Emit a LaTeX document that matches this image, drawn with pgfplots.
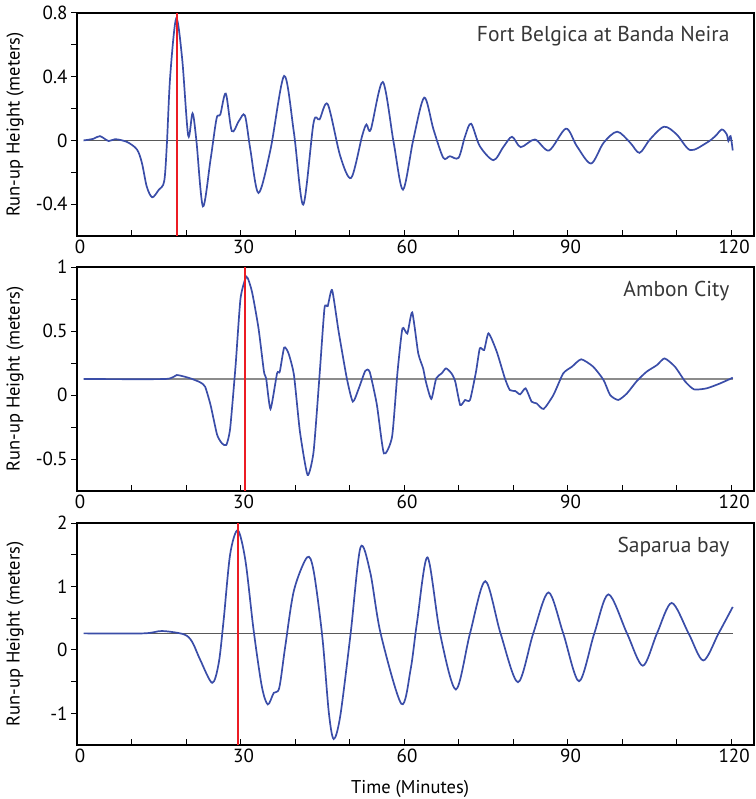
\documentclass[border=0pt]{standalone}
\usepackage{pgfplots}
\pgfplotsset{compat=1.18}
\usepackage{fontspec}
\setmainfont{PT Sans}

\definecolor{waveblue}{RGB}{58,77,168}
\definecolor{arrivalred}{RGB}{236,28,36}
\definecolor{labelgray}{RGB}{55,55,55}

\pgfplotsset{
  runup/.style={
    scale only axis,
    width=677pt,
    xmin=0, xmax=124.2,
    axis line style={line width=1.5pt},
    xtick={0,30,60,90,120},
    minor xtick={10,20,40,50,70,80,100,110},
    xtick pos=bottom, ytick pos=left,
    xtick align=inside, ytick align=outside,
    major tick length=6pt, minor tick length=6pt,
    tick style={black, line width=1pt},
    every tick label/.append style={font=\fontsize{19}{22}\selectfont, text=black},
    xticklabel style={xshift=3pt},
    /pgf/number format/assume math mode=true,
    ylabel={Run-up Height (meters)},
    ylabel style={font=\fontsize{18.5}{22}\selectfont, at={(axis description cs:0,0.5)},
      anchor=south, yshift=53pt, inner sep=0pt},
  },
  wave/.style={waveblue, line width=1.7pt, smooth, tension=0.5},
  zero/.style={line width=0.8pt},
  arrival/.style={arrivalred, line width=2pt},
}

\newcommand{\site}[1]{\node[anchor=base east, font=\fontsize{21.5}{26}\selectfont, text=labelgray, yshift=-29pt]
  at (rel axis cs:0.969,1) {#1};}

\begin{document}
\begin{tikzpicture}
\path[use as bounding box] (0,0) rectangle (755pt,-799pt);

% --- Fort Belgica ---
\begin{axis}[runup, at={(77pt,-236pt)}, anchor=south west, height=223pt,
  ymin=-0.6, ymax=0.8,
  ytick={-0.4,0,0.4,0.8}, yticklabels={-0.4,0,0.4,0.8},
  minor ytick={-0.2,0.2,0.6}]
\addplot[zero, black!65] coordinates {(1.2,0) (120.3,0)};
\addplot[wave] coordinates {
  (1.2,0) (3,0.01) (4.2,0.027) (5.8,-0.004) (7.0,0.008) (9.2,-0.01) (11,-0.057)
  (11.9,-0.14) (12.8,-0.29) (13.8,-0.357) (15,-0.31) (16,-0.256) (16.5,-0.015)
  (17.1,0.405) (18.2,0.766) (19.3,0.51) (20.4,0.03) (21.2,0.17) (21.9,0.0)
  (23.1,-0.414) (24.5,-0.12) (25.6,0.137) (26.3,0.164) (27.3,0.294) (28.4,0.059)
  (29.7,0.122) (30.8,0.157) (31.8,-0.057) (33.3,-0.33) (35.5,-0.057) (38,0.405)
  (39.8,0.048) (41.5,-0.403) (43.4,0.111) (44.5,0.132) (46,0.227) (48.3,-0.099)
  (50.3,-0.235) (52.3,0.027) (53.1,0.10) (53.9,0.069) (56.1,0.367) (58.1,-0.015)
  (59.8,-0.309) (61.7,0.006) (63.7,0.269) (65.4,0.069) (67.2,-0.109) (68.4,-0.099)
  (70,-0.109) (71.2,0.027) (72.3,0.105) (73.9,-0.036) (76.4,-0.124) (78.2,-0.042)
  (79.8,0.023) (81.4,-0.042) (84.0,0.006) (86.6,-0.063) (89.7,0.074) (91.7,-0.036)
  (94.3,-0.145) (96.6,-0.015) (99.1,0.055) (101.5,-0.015) (103.2,-0.078)
  (105.1,0.006) (107.7,0.086) (110.0,0.038) (112.5,-0.061) (115.5,-0.015)
  (117.1,0.027) (118.3,0.069) (119.2,0.038) (119.5,-0.004) (119.9,0.027) (120.3,-0.063)
};
\addplot[arrival] coordinates {(18.3,-0.6) (18.3,0.8)};
\site{Fort Belgica at Banda Neira}
\end{axis}

% --- Ambon City ---
\begin{axis}[runup, at={(77pt,-491pt)}, anchor=south west, height=224pt,
  ymin=-0.75, ymax=1,
  ytick={-0.5,0,0.5,1}, yticklabels={-0.5,0,0.5,1},
  minor ytick={-0.25,0.25,0.75}]
\addplot[zero, black!45, line width=1.2pt] coordinates {(1.2,0.125) (120.3,0.125)};
\addplot[wave, tension=0.35] coordinates {
  (1.2,0.125) (16.2,0.125) (18.3,0.156) (20.8,0.130) (22.6,0.099) (23.5,0.065)
  (24.5,-0.078) (25.7,-0.31) (26.6,-0.378) (27.4,-0.39) (28.1,-0.26) (29.1,0.234)
  (30,0.755) (31.1,0.924) (32.1,0.807) (33.3,0.521) (34.3,0.182) (34.7,0.13)
  (35.5,-0.109) (36.7,0.169) (37.2,0.182) (38,0.37) (38.8,0.326) (39.8,0.156)
  (40.9,-0.287) (42.3,-0.625) (43.4,-0.443) (44.5,0.156) (45.4,0.677) (46,0.695)
  (46.8,0.82) (48,0.495) (49.5,0.13) (50.6,-0.052) (51.7,0.052) (52.9,0.19)
  (53.7,0.18) (55,-0.073) (56.3,-0.456) (57.8,-0.326) (58.8,0.18) (59.7,0.52)
  (60.6,0.48) (61.5,0.645) (62.6,0.326) (63.5,0.208) (64.0,0.104) (65.0,-0.031)
  (65.9,0.13) (66.9,0.169) (67.7,0.208) (68.7,0.169) (69.4,0.104) (70.3,-0.078)
  (71.2,-0.039) (72.1,-0.039) (73.2,0.182) (73.9,0.365) (74.7,0.352) (75.5,0.482)
  (77.0,0.339) (78.5,0.13) (79.4,0.039) (80.4,0.031) (81.3,0.005) (82.3,0.052)
  (83.4,-0.052) (84.3,-0.065) (85.6,-0.109) (87.4,0.0) (89.2,0.169) (90.8,0.221)
  (92.5,0.279) (94.7,0.221) (96.6,0.117) (97.8,0.0) (99.3,-0.039) (100.9,0.013)
  (102.7,0.109) (104.5,0.182) (106.4,0.234) (107.8,0.286) (109.7,0.221)
  (111.6,0.104) (113.2,0.044) (115.5,0.052) (118.0,0.091) (120.3,0.135)
};
\addplot[arrival] coordinates {(30.9,-0.75) (30.9,1)};
\site{Ambon City}
\end{axis}

% --- Saparua bay ---
\begin{axis}[runup, at={(77pt,-745pt)}, anchor=south west, height=222pt,
  ymin=-1.5, ymax=2,
  ytick={-1,0,1,2}, yticklabels={-1,0,1,2},
  minor ytick={-0.5,0.5,1.5},
  xlabel={Time (Minutes)},
  xlabel style={font=\fontsize{18.5}{22}\selectfont, at={(axis description cs:0.492,0)},
    anchor=base, yshift=-48pt, inner sep=0pt}]
\addplot[zero, black!65] coordinates {(1.2,0.26) (120.3,0.26)};
\addplot[wave] coordinates {
  (1.2,0.26) (12.2,0.26) (15.6,0.297) (19.6,0.245) (21.1,0.13) (22.6,-0.156)
  (24.8,-0.52) (26,-0.208) (26.9,0.469) (28.1,1.51) (29.5,1.885) (30.9,1.406)
  (32.4,0.31) (33.9,-0.573) (35,-0.86) (36.1,-0.677) (37.1,-0.6) (38.2,0.052)
  (39.8,0.9375) (42.2,1.458) (43.4,1.25) (45,0.21) (46.2,-0.99) (47.1,-1.406)
  (48.3,-1.04) (50.2,0.26) (52,1.614) (53.8,1.22) (55.7,0.26) (59.5,-0.85)
  (61.2,-0.31) (62.4,0.45) (64.3,1.458) (66.6,0.26) (69.5,-0.625) (72.1,0.26)
  (74.9,1.083) (77.7,0.26) (80.9,-0.51) (83.7,0.26) (86.5,0.906) (89.2,0.26)
  (92.1,-0.495) (94.9,0.26) (97.5,0.875) (100.9,0.26) (103.8,-0.25) (106.4,0.26)
  (109.1,0.74) (112.2,0.26) (114.9,-0.167) (117.7,0.26) (120.3,0.677)
};
\addplot[arrival] coordinates {(29.5,-1.5) (29.5,2)};
\site{Saparua bay}
\end{axis}
\end{tikzpicture}
\end{document}
